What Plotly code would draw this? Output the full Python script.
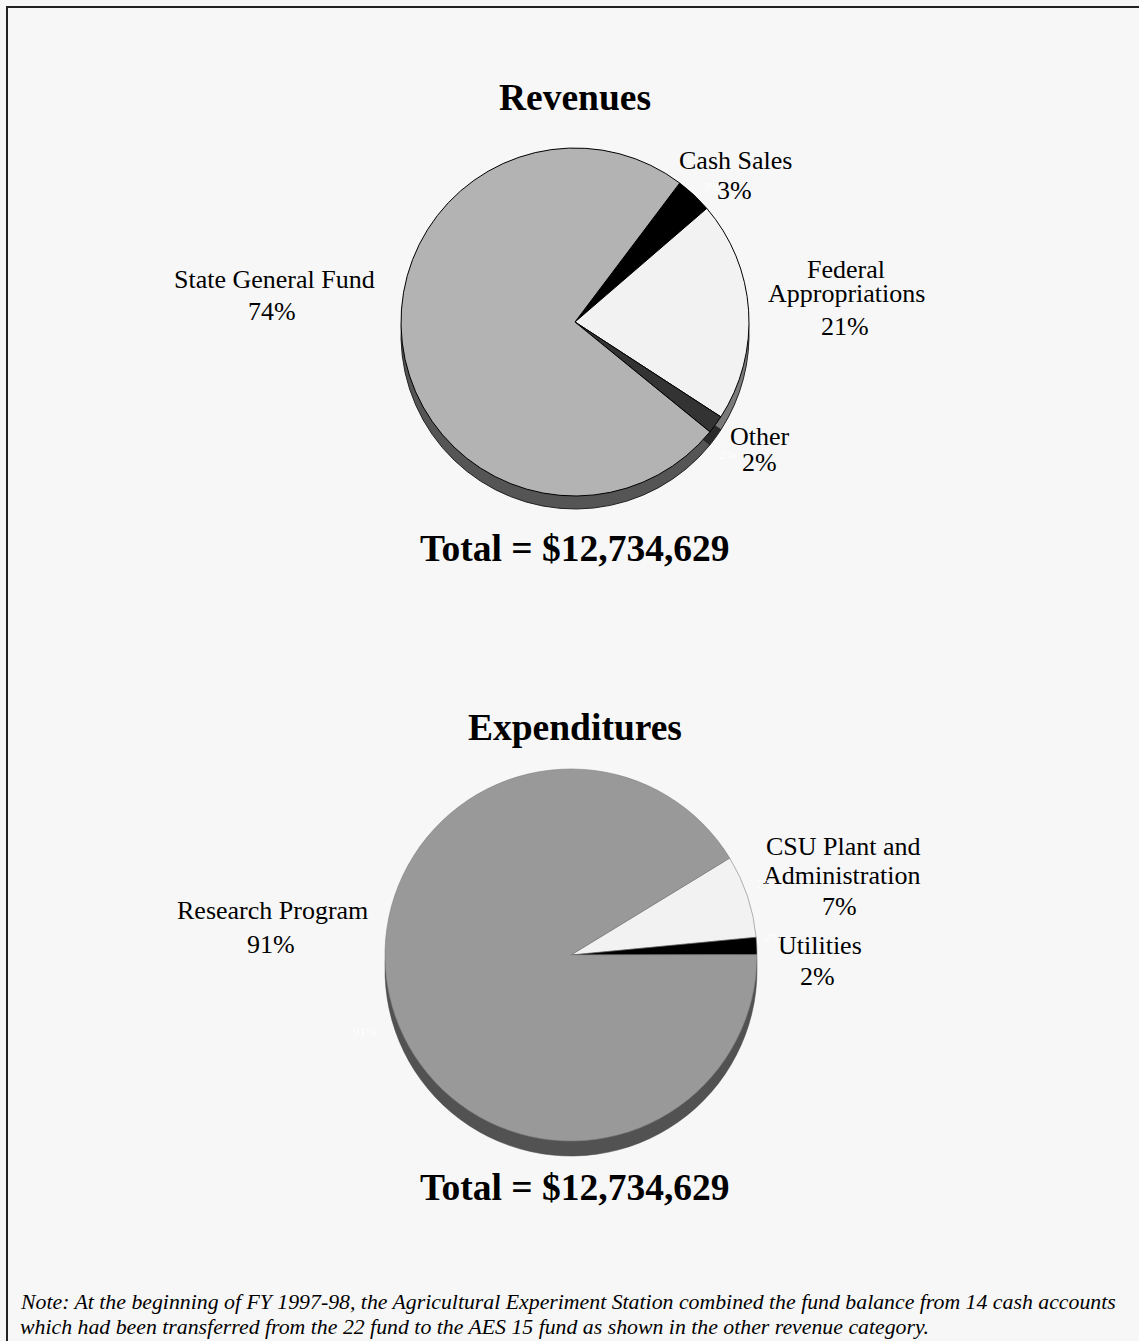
import plotly.graph_objects as go

W, H = 1139, 1341

# ---------------- data ----------------
rev_labels = ["Cash Sales", "Federal Appropriations", "Other", "State General Fund"]
rev_values = [3.4, 20.5, 1.7, 74.4]
rev_pct = ["3%", "21%", "2%", "74%"]
rev_total = "Total = $12,734,629"

exp_labels = ["CSU Plant and Administration", "Utilities", "Research Program"]
exp_values = [7.2, 1.5, 91.3]
exp_pct = ["7%", "2%", "91%"]
exp_total = "Total = $12,734,629"

note_lines = [
    "Note: At the beginning of FY 1997-98, the Agricultural Experiment Station combined the fund balance from 14 cash accounts",
    "which had been transferred from the 22 fund to the AES 15 fund as shown in the other revenue category.",
]

# ---------------- styles ----------------
rev_colors = ["#000000", "#f2f2f2", "#333333", "#b3b3b3"]
rev_side = ["#000000", "#7a7a7a", "#2a2a2a", "#555555"]
exp_colors = ["#f2f2f2", "#000000", "#999999"]
exp_side = ["#7a7a7a", "#000000", "#525252"]

SERIF = "Liberation Serif, Times New Roman, serif"


def px_dom(cx, cy, r):
    return dict(x=[(cx - r) / W, (cx + r) / W],
                y=[1 - (cy + r) / H, 1 - (cy - r) / H])


fig = go.Figure()

# Revenues pie (with depth)
rc, rcy, rr, rdepth = 575, 322, 174, 13
fig.add_trace(go.Pie(values=rev_values, labels=rev_labels, sort=False, direction="clockwise",
                     rotation=37, domain=px_dom(rc, rcy + rdepth, rr), textinfo="none",
                     marker=dict(colors=rev_side, line=dict(color="#222222", width=1)),
                     hoverinfo="skip", showlegend=False))
fig.add_trace(go.Pie(values=rev_values, labels=rev_labels, sort=False, direction="clockwise",
                     rotation=37, domain=px_dom(rc, rcy, rr), textinfo="none",
                     marker=dict(colors=rev_colors, line=dict(color="#000000", width=1)),
                     showlegend=False))

# Expenditures pie (with depth)
ec, ecy, er, edepth = 571, 955, 186, 15
fig.add_trace(go.Pie(values=exp_values, labels=exp_labels, sort=False, direction="clockwise",
                     rotation=58.6, domain=px_dom(ec, ecy + edepth, er), textinfo="none",
                     marker=dict(colors=exp_side, line=dict(color="#444444", width=0.5)),
                     hoverinfo="skip", showlegend=False))
fig.add_trace(go.Pie(values=exp_values, labels=exp_labels, sort=False, direction="clockwise",
                     rotation=58.6, domain=px_dom(ec, ecy, er), textinfo="none",
                     marker=dict(colors=exp_colors, line=dict(color="#808080", width=0.6)),
                     showlegend=False))

annotations = []


def add_text(text, x, y, size=26, bold=False, color="black", xanchor="center"):
    t = f"<b>{text}</b>" if bold else text
    annotations.append(dict(text=t, x=x / W, y=1 - y / H, xref="paper", yref="paper",
                            xanchor=xanchor, yanchor="middle", showarrow=False,
                            font=dict(family=SERIF, size=size, color=color)))


# label positions (pixel centres of each text line)
rev_label_pos = [
    [(735, 161)],
    [(846, 269), (846, 293)],
    [(760, 436)],
    [(274, 279)],
]
rev_pct_pos = [(734, 191), (845, 326), (759, 463), (272, 311)]
for lab, pct, lp, pp in zip(rev_labels, rev_pct, rev_label_pos, rev_pct_pos):
    words = lab.split(" ") if len(lp) > 1 else [lab]
    for w, (x, y) in zip(words, lp):
        add_text(w, x, y)
    add_text(pct, *pp)

exp_label_pos = [
    [(843, 846), (841, 875)],
    [(820, 945)],
    [(272, 910)],
]
exp_pct_pos = [(839, 906), (817, 976), (271, 944)]
for lab, pct, lp, pp in zip(exp_labels, exp_pct, exp_label_pos, exp_pct_pos):
    if len(lp) > 1:
        parts = [lab.rsplit(" ", 1)[0], lab.rsplit(" ", 1)[1]]
    else:
        parts = [lab]
    for w, (x, y) in zip(parts, lp):
        add_text(w, x, y)
    add_text(pct, *pp)

# faint in-slice white labels (as in the reference)
faint = [(rev_pct[0], 712, 187), (rev_pct[2], 728, 455), (exp_pct[0], 766, 883),
         (exp_pct[1], 773, 936), (exp_pct[2], 365, 1031)]
for t, x, y in faint:
    add_text(t, x, y, size=13, color="rgba(255,255,255,0.9)")

# titles and totals
add_text("Revenues", 575, 97, size=37.5, bold=True)
add_text(rev_total, 575, 548, size=37.5, bold=True)
add_text("Expenditures", 575, 727, size=37.5, bold=True)
add_text(exp_total, 575, 1187, size=37.5, bold=True)

# note
for line, y in zip(note_lines, [1302, 1327]):
    annotations.append(dict(text=f"<i>{line}</i>", x=18 / W, y=1 - y / H, xref="paper", yref="paper",
                            xanchor="left", yanchor="middle", showarrow=False,
                            font=dict(family=SERIF, size=21.8, color="black")))

fig.update_layout(
    width=W, height=H, margin=dict(l=0, r=0, t=0, b=0),
    paper_bgcolor="#f7f7f7", plot_bgcolor="#f7f7f7",
    annotations=annotations,
    shapes=[dict(type="rect", xref="paper", yref="paper",
                 x0=7 / W, x1=1160 / W, y0=1 - 1360 / H, y1=1 - 7 / H,
                 line=dict(color="#222222", width=2), fillcolor="rgba(0,0,0,0)")],
)

fig.write_html("out.html", config={"displayModeBar": False},
               post_script="document.body.style.margin='0';document.body.style.background='#f7f7f7';")
